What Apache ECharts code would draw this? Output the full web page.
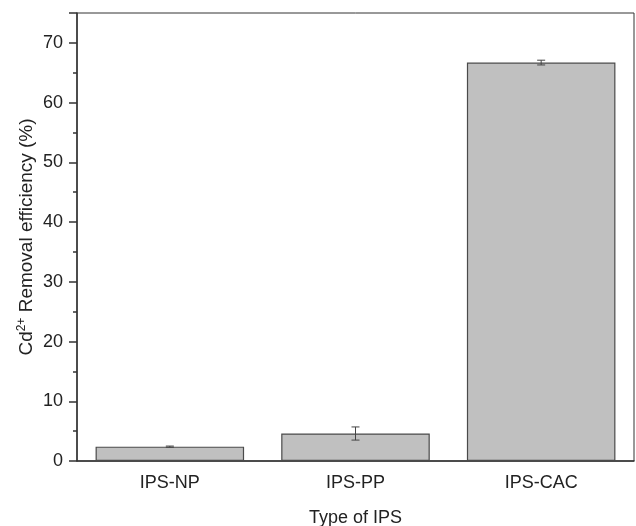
<!DOCTYPE html>
<html>
<head>
<meta charset="utf-8">
<script src="https://cdn.jsdelivr.net/npm/echarts@6/dist/echarts.min.js"></script>
<style>
  html, body { margin: 0; padding: 0; background: #fff; }
  #main { width: 636px; height: 526px; }
</style>
</head>
<body>
<div id="main"></div>
<script>
  // data
  var categories = ['IPS-NP', 'IPS-PP', 'IPS-CAC'];
  var efficiency = [2.4, 4.6, 66.7];
  var errors = [0.1, 1.1, 0.4];
  var yTicks = [0, 10, 20, 30, 40, 50, 60, 70];

  var myChart = echarts.init(document.getElementById('main'));
  var font = '"Liberation Sans", Arial, sans-serif';

  var errData = categories.map(function (c, i) {
    return [i, efficiency[i] - errors[i], efficiency[i] + errors[i]];
  });

  var option = {
    animation: false,
    textStyle: { fontFamily: font },
    grid: {
      left: 77, right: 2, top: 13, bottom: 65,
      outerBoundsMode: 'none',
      show: true, borderColor: '#333', borderWidth: 1, backgroundColor: 'transparent'
    },
    xAxis: [{
      type: 'category',
      data: categories,
      name: 'Type of IPS',
      nameLocation: 'middle',
      nameGap: 48,
      nameTextStyle: { fontSize: 18, color: '#222', fontFamily: font },
      axisLine: { lineStyle: { color: '#333', width: 1.5 } },
      axisTick: { alignWithLabel: true, length: 8, lineStyle: { color: '#333', width: 1.5 } },
      axisLabel: { fontSize: 18, color: '#222', margin: 13, fontFamily: font }
    }, {
      // short ticks at category boundaries
      type: 'category',
      data: categories,
      position: 'bottom',
      axisLine: { show: false },
      axisTick: { length: 4, lineStyle: { color: '#333', width: 1.5 } },
      axisLabel: { show: false }
    }],
    yAxis: {
      type: 'value',
      min: 0,
      max: 75,
      interval: 10,
      name: '{a|Cd}{s|2+}{a| Removal efficiency (%)}',
      nameLocation: 'middle',
      nameGap: 40,
      nameMoveOverlap: false,
      nameTextStyle: {
        rich: {
          a: { fontSize: 19, color: '#222', fontFamily: font },
          s: { fontSize: 12, color: '#222', fontFamily: font, verticalAlign: 'bottom', padding: [0, 0, 9, 0] }
        }
      },
      splitLine: { show: false },
      axisLine: { show: true, lineStyle: { color: '#333', width: 1.5 } },
      axisTick: { show: true, length: 8, lineStyle: { color: '#333', width: 1.5 } },
      minorTick: { show: true, splitNumber: 2, length: 4, lineStyle: { color: '#333', width: 1.5 } },
      axisLabel: {
        fontSize: 18, color: '#222', margin: 14, fontFamily: font, showMaxLabel: false,
        formatter: function (v) { return yTicks.indexOf(v) >= 0 ? String(v) : ''; }
      }
    },
    series: [{
      type: 'bar',
      data: efficiency,
      barWidth: '80%',
      itemStyle: { color: '#c0c0c0', borderColor: '#4a4a4a', borderWidth: 1.2 }
    }, {
      type: 'custom',
      data: errData,
      z: 5,
      renderItem: function (params, api) {
        var x = api.value(0);
        var lo = api.coord([x, api.value(1)]);
        var hi = api.coord([x, api.value(2)]);
        var w = 4;
        var st = { stroke: '#444', lineWidth: 1 };
        return {
          type: 'group',
          children: [
            { type: 'line', shape: { x1: lo[0], y1: lo[1], x2: hi[0], y2: hi[1] }, style: st },
            { type: 'line', shape: { x1: lo[0] - w, y1: lo[1], x2: lo[0] + w, y2: lo[1] }, style: st },
            { type: 'line', shape: { x1: hi[0] - w, y1: hi[1], x2: hi[0] + w, y2: hi[1] }, style: st }
          ]
        };
      }
    }]
  };

  myChart.setOption(option);
</script>
</body>
</html>
